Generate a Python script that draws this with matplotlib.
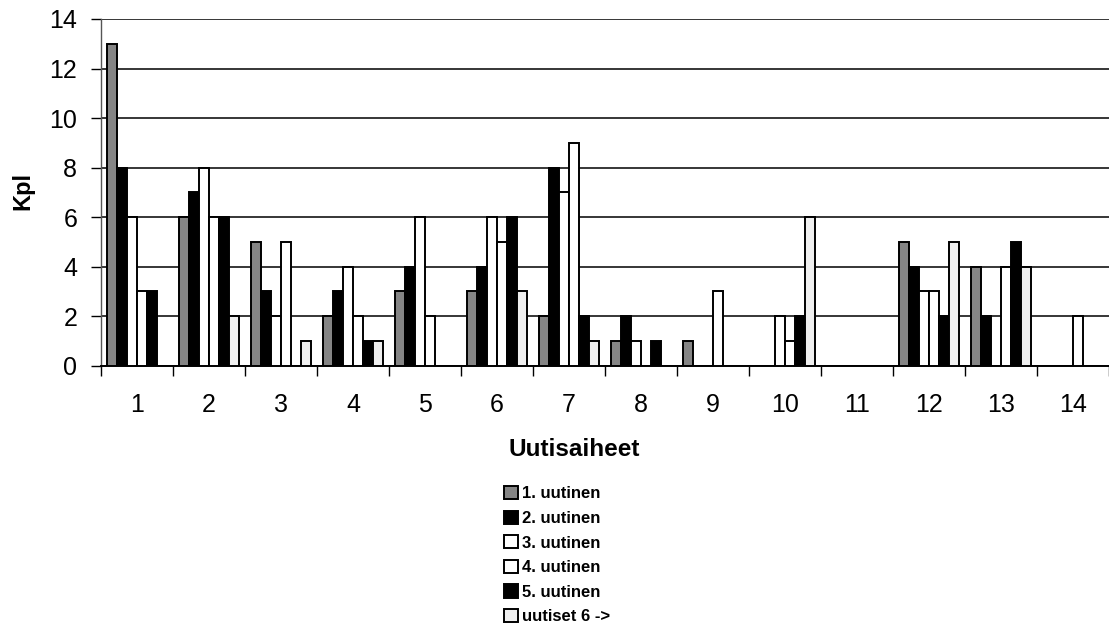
import matplotlib
matplotlib.use("Agg")
import matplotlib.pyplot as plt
import numpy as np

plt.rcParams['font.family'] = ['Liberation Sans', 'DejaVu Sans']

categories = ["1", "2", "3", "4", "5", "6", "7", "8", "9", "10", "11", "12", "13", "14"]
series_names = ["1. uutinen", "2. uutinen", "3. uutinen", "4. uutinen", "5. uutinen", "uutiset 6 ->"]
s1 = [13, 6, 5, 2, 3, 3, 2, 1, 1, 0, 0, 5, 4, 0]
s2 = [8, 7, 3, 3, 4, 4, 8, 2, 0, 0, 0, 4, 2, 0]
s3 = [6, 8, 2, 4, 6, 6, 7, 1, 0, 2, 0, 3, 0, 0]
s4 = [3, 6, 5, 2, 2, 5, 9, 0, 3, 1, 0, 3, 4, 2]
s5 = [3, 6, 0, 1, 0, 6, 2, 1, 0, 2, 0, 2, 5, 0]
s6 = [0, 2, 1, 1, 0, 3, 1, 0, 0, 6, 0, 5, 4, 0]
yticks = [0, 2, 4, 6, 8, 10, 12, 14]

series = [s1, s2, s3, s4, s5, s6]
faces = ['#858585', '#000000', '#ffffff', '#ffffff', '#000000', '#efefef']

W, H = 1109, 632
fig = plt.figure(figsize=(W / 100, H / 100), dpi=100)
left_px, right_px, top_px, bot_px = 100.9, 1109, 19, 365.7
ax = fig.add_axes([left_px / W, 1 - bot_px / H, (right_px - left_px) / W, (bot_px - top_px) / H])

x = np.arange(1, len(categories) + 1)
bw = 0.138
for i, (vals, fc, name) in enumerate(zip(series, faces, series_names)):
    ax.bar(x + (i - 2.5) * bw, vals, width=bw, color=fc, edgecolor='black',
           linewidth=1.4, label=name, zorder=3)

ax.set_xlim(0.5, 0.5 + (right_px - left_px) / 72.4)
ax.set_ylim(0, 14)
ax.set_yticks(yticks)
ax.set_yticklabels([str(v) for v in yticks], fontsize=18)
ax.yaxis.grid(True, color='black', linewidth=1.1, zorder=0)
ax.set_axisbelow(True)

ax.set_xticks(np.arange(0.5, len(categories) + 0.6, 1.0))
ax.set_xticklabels([])
ax.set_xticks(x, minor=True)
ax.set_xticklabels(categories, minor=True, fontsize=18)
ax.tick_params(axis='x', which='major', length=7, width=1, direction='out')
ax.tick_params(axis='x', which='minor', length=0, pad=20)
ax.tick_params(axis='y', length=7, width=1, direction='out', pad=10)

for s in ['top', 'right']:
    ax.spines[s].set_visible(False)
ax.spines['left'].set_color('#555555')
ax.spines['left'].set_linewidth(1.0)
ax.spines['bottom'].set_color('black')
ax.spines['bottom'].set_linewidth(1.4)

fig.text(23 / W, 1 - 191 / H, "Kpl", rotation=90, fontsize=17, fontweight='bold',
         ha='center', va='center')
fig.text(574 / W, 1 - 449 / H, "Uutisaiheet", fontsize=17.5, fontweight='bold',
         ha='center', va='center')

leg = fig.legend(loc='upper left', bbox_to_anchor=(504 / W, 1 - 486 / H),
                 frameon=False, prop={'weight': 'bold', 'size': 12},
                 handlelength=0.85, handleheight=0.85, handletextpad=0.25,
                 labelspacing=0.55, borderpad=0, borderaxespad=0)

fig.savefig("out.png", dpi=100)
